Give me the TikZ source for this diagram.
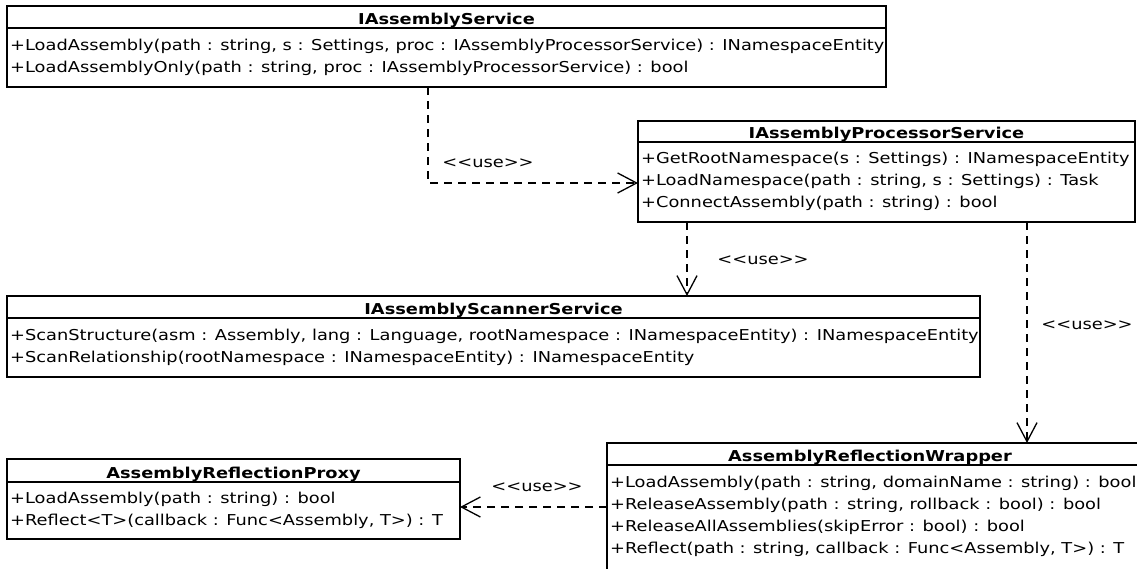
\documentclass[tikz,border=0pt]{standalone}
\usepackage{fontspec}
\newfontfamily\umlfont{DejaVu Sans}[FakeStretch=1.187]
\usetikzlibrary{arrows.meta, calc, positioning}

\tikzset{
	classbox/.style={draw, line width=1.8pt, anchor=north west, inner sep=0pt, outer sep=0pt},
	classline/.style={line width=1.8pt},
	classname/.style={anchor=base, font=\umlfont\bfseries\fontsize{15}{22}\selectfont, inner sep=0pt},
	member/.style={anchor=base west, inner sep=0pt},
	uses/.style={line width=1.3pt, dash pattern=on 8pt off 6pt, -{Straight Barb[length=19pt, width=20pt, line width=1.3pt]}},
	stereo/.style={inner sep=0pt}
}

\begin{document}
\begin{tikzpicture}[x=1pt, y=-1pt, font=\umlfont\fontsize{15}{22}\selectfont]
	\useasboundingbox (0,0) rectangle (1137,568);
	\clip (0,0) rectangle (1137,568);

	% IAssemblyService
	\node [classbox, minimum width=879, minimum height=81] (svc) at (7,6) {};
	\draw [classline] ($ (svc.north west) + (0,22) $) -- ($ (svc.north east) + (0,22) $);
	\node [classname] (svcT) at ($ (svc.north) + (0,18) $) {IAssemblyService};
	\node [member] (svc1) at ($ (svc.north west) + (3,44) $) {+LoadAssembly(path : string, s : Settings, proc : IAssemblyProcessorService) : INamespaceEntity};
	\node [member] (svc2) at ($ (svc.north west) + (3,66) $) {+LoadAssemblyOnly(path : string, proc : IAssemblyProcessorService) : bool};

	% IAssemblyProcessorService
	\node [classbox, minimum width=497, minimum height=101] (proc) at (638,121) {};
	\draw [classline] ($ (proc.north west) + (0,21) $) -- ($ (proc.north east) + (0,21) $);
	\node [classname] (procT) at ($ (proc.north) + (0,17) $) {IAssemblyProcessorService};
	\node [member] (proc1) at ($ (proc.north west) + (3,42) $) {+GetRootNamespace(s : Settings) : INamespaceEntity};
	\node [member] (proc2) at ($ (proc.north west) + (3,64) $) {+LoadNamespace(path : string, s : Settings) : Task};
	\node [member] (proc3) at ($ (proc.north west) + (3,86) $) {+ConnectAssembly(path : string) : bool};

	% IAssemblyScannerService
	\node [classbox, minimum width=973, minimum height=81] (scan) at (7,296) {};
	\draw [classline] ($ (scan.north west) + (0,22) $) -- ($ (scan.north east) + (0,22) $);
	\node [classname] (scanT) at ($ (scan.north) + (0,18) $) {IAssemblyScannerService};
	\node [member] (scan1) at ($ (scan.north west) + (3,44) $) {+ScanStructure(asm : Assembly, lang : Language, rootNamespace : INamespaceEntity) : INamespaceEntity};
	\node [member] (scan2) at ($ (scan.north west) + (3,66) $) {+ScanRelationship(rootNamespace : INamespaceEntity) : INamespaceEntity};

	% AssemblyReflectionProxy
	\node [classbox, minimum width=453, minimum height=80] (proxy) at (7,459) {};
	\draw [classline] ($ (proxy.north west) + (0,23) $) -- ($ (proxy.north east) + (0,23) $);
	\node [classname] (proxyT) at ($ (proxy.north) + (0,19) $) {AssemblyReflectionProxy};
	\node [member] (proxy1) at ($ (proxy.north west) + (3,44) $) {+LoadAssembly(path : string) : bool};
	\node [member] (proxy2) at ($ (proxy.north west) + (3,66) $) {+Reflect<T>(callback : Func<Assembly, T>) : T};

	% AssemblyReflectionWrapper (runs off the page)
	\node [classbox, minimum width=540, minimum height=130] (wrap) at (607,443) {};
	\draw [classline] ($ (wrap.north west) + (0,22) $) -- ($ (wrap.north east) + (0,22) $);
	\node [classname] (wrapT) at ($ (wrap.north west) + (263,18) $) {AssemblyReflectionWrapper};
	\node [member] (wrap1) at ($ (wrap.north west) + (3,44) $) {+LoadAssembly(path : string, domainName : string) : bool};
	\node [member] (wrap2) at ($ (wrap.north west) + (3,66) $) {+ReleaseAssembly(path : string, rollback : bool) : bool};
	\node [member] (wrap3) at ($ (wrap.north west) + (3,88) $) {+ReleaseAllAssemblies(skipError : bool) : bool};
	\node [member] (wrap4) at ($ (wrap.north west) + (3,110) $) {+Reflect(path : string, callback : Func<Assembly, T>) : T};

	% dependencies
	\coordinate (svcOut) at ($ (svc.south west) + (421,0) $);
	\coordinate (procIn) at ($ (proc.north west) + (0,62) $);
	\draw [uses] (svcOut) |- (procIn);
	\node [stereo] (useA) at (488,163) {<<use>>};

	\coordinate (procOutA) at ($ (proc.south west) + (49,0) $);
	\draw [uses] (procOutA) -- (procOutA |- scan.north);
	\node [stereo] (useB) at (763,260) {<<use>>};

	\coordinate (procOutB) at ($ (proc.south west) + (389,0) $);
	\draw [uses] (procOutB) -- (procOutB |- wrap.north);
	\node [stereo] (useC) at (1087,325) {<<use>>};

	\coordinate (wrapOut) at ($ (wrap.north west) + (0,64) $);
	\draw [uses] (wrapOut) -- (wrapOut -| proxy.east);
	\node [stereo] (useD) at (537,487) {<<use>>};
\end{tikzpicture}
\end{document}
